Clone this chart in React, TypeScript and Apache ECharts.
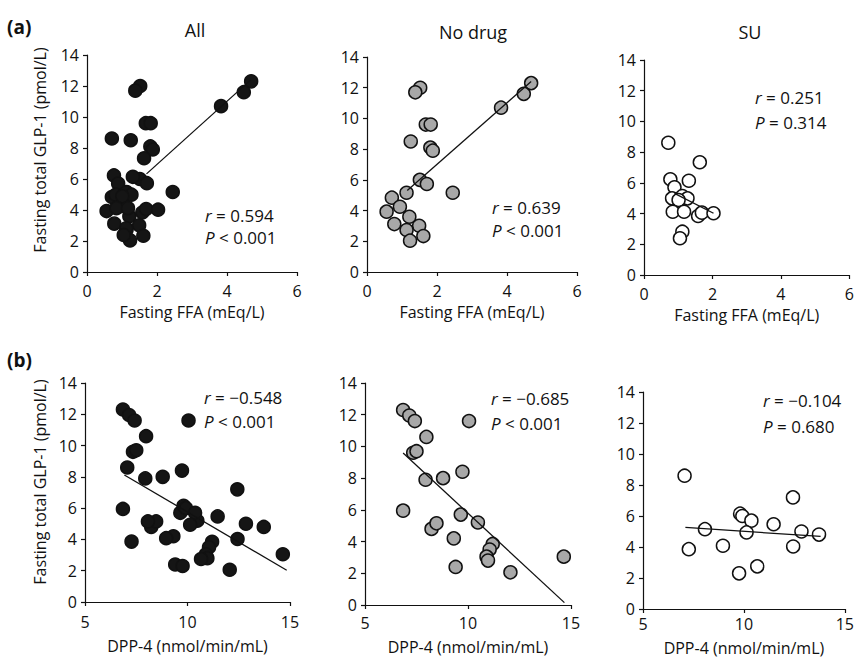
import React, { useEffect, useRef } from "react";
import * as echarts from "echarts";

const panelTitles = ["All", "No drug", "SU"];
const rowLabels = ["(a)", "(b)"];
const yAxisTitle = "Fasting total GLP-1 (pmol/L)";
const xAxisTitles = ["Fasting FFA (mEq/L)", "DPP-4 (nmol/min/mL)"];

// (a) x = fasting FFA (mEq/L), y = fasting total GLP-1 (pmol/L)
const ffaNoDrug: number[][] = [
  [1.52, 12.0], [1.38, 11.7], [4.69, 12.3], [4.48, 11.6], [3.83, 10.7],
  [1.68, 9.6], [1.82, 9.6], [1.25, 8.5], [1.81, 8.1], [1.88, 7.9],
  [1.51, 6.0], [1.71, 5.73], [1.13, 5.16], [2.45, 5.16], [0.71, 4.84],
  [0.94, 4.25], [0.56, 3.93], [1.21, 3.6], [0.78, 3.12], [1.49, 3.01],
  [1.13, 2.73], [1.23, 2.04], [1.61, 2.34],
];
const ffaSU: number[][] = [
  [0.71, 8.61], [1.63, 7.34], [0.77, 6.23], [1.31, 6.14], [0.89, 5.71],
  [0.82, 4.99], [1.12, 5.14], [1.27, 4.99], [1.01, 4.88], [0.84, 4.12],
  [1.17, 4.12], [1.58, 3.84], [1.69, 4.06], [2.03, 4.02], [1.12, 2.82],
  [1.05, 2.39],
];
const ffaAll: number[][] = [...ffaNoDrug, ...ffaSU];

// (b) x = DPP-4 (nmol/min/mL), y = fasting total GLP-1 (pmol/L)
const dppNoDrug: number[][] = [
  [6.85, 12.3], [7.15, 11.95], [7.42, 11.6], [7.98, 10.6], [10.05, 11.6],
  [7.34, 9.6], [7.5, 9.7], [9.73, 8.4], [7.94, 7.9], [8.79, 8.0],
  [6.85, 5.95], [9.65, 5.7], [10.48, 5.2], [8.23, 4.8], [8.47, 5.15],
  [9.31, 4.2], [11.2, 3.85], [11.05, 3.5], [10.9, 3.05], [10.97, 2.8],
  [9.4, 2.4], [12.06, 2.06], [14.65, 3.05],
];
const dppSU: number[][] = [
  [7.06, 8.6], [7.27, 3.86], [8.07, 5.15], [8.96, 4.08], [9.76, 2.3],
  [9.81, 6.15], [9.92, 6.0], [10.37, 5.7], [10.13, 4.94], [10.66, 2.75],
  [11.47, 5.47], [12.43, 7.2], [12.44, 4.03], [12.85, 5.0], [13.72, 4.8],
];
const dppAll: number[][] = [...dppNoDrug, ...dppSU];

// regression lines (end points as drawn)
const fitFfaAll: number[][] = [[1.7, 6.33], [4.67, 12.38]];
const fitFfaNoDrug: number[][] = [[1.15, 5.3], [4.69, 12.4]];
const fitFfaSU: number[][] = [[0.89, 5.32], [2.03, 4.02]];
const fitDppAll: number[][] = [[6.92, 8.12], [14.84, 2.03]];
const fitDppNoDrug: number[][] = [[6.85, 9.58], [14.68, 0.15]];
const fitDppSU: number[][] = [[7.1, 5.26], [13.8, 4.68]];

const statR = ["0.594", "0.639", "0.251", "\u22120.548", "\u22120.685", "\u22120.104"];
const statP = ["< 0.001", "< 0.001", "= 0.314", "< 0.001", "< 0.001", "= 0.680"];

const FONT = "'Open Sans', 'Noto Sans', sans-serif";

export default function App() {
  const ref = useRef<HTMLDivElement>(null);
  useEffect(() => {
    if (!ref.current) return;
    const chart = echarts.init(ref.current, undefined, { renderer: "svg" });

    const grids = [
      { left: 87, top: 55, width: 210, height: 217 },
      { left: 367, top: 57, width: 210, height: 215 },
      { left: 644, top: 60, width: 209, height: 215 },
      { left: 85, top: 383, width: 205, height: 219 },
      { left: 365, top: 383, width: 206, height: 222 },
      { left: 643, top: 392, width: 205, height: 217 },
    ];
    const labelMargins = [11, 11, 11, 12, 10, 7];
    const nameGaps = [32, 32, 32, 36, 34, 31];
    const scatterData = [ffaAll, ffaNoDrug, ffaSU, dppAll, dppNoDrug, dppSU];
    const fitData = [fitFfaAll, fitFfaNoDrug, fitFfaSU, fitDppAll, fitDppNoDrug, fitDppSU];
    const fills = ["#151515", "#a8a8a8", "#ffffff"];

    const axisLine = { show: true, lineStyle: { color: "#111", width: 1.2 } };
    const axisTick = { show: true, length: 4, lineStyle: { color: "#111", width: 1.2 } };

    const xAxes = grids.map((_, i) => {
      const row = i < 3 ? 0 : 1;
      return {
        gridIndex: i,
        type: "value",
        min: row === 0 ? 0 : 5,
        max: row === 0 ? 6 : 15,
        interval: row === 0 ? 2 : 5,
        splitLine: { show: false },
        axisLine: { ...axisLine, onZero: false },
        axisTick,
        axisLabel: { color: "#111", fontSize: 16, fontFamily: FONT, margin: labelMargins[i] },
        name: xAxisTitles[row],
        nameLocation: "middle",
        nameGap: nameGaps[i],
        nameTextStyle: { color: "#111", fontSize: 16, fontFamily: FONT },
      };
    });
    const yAxes = grids.map((_, i) => ({
      gridIndex: i,
      type: "value",
      min: 0,
      max: 14,
      interval: 2,
      splitLine: { show: false },
      axisLine: { ...axisLine, onZero: false },
      axisTick,
      axisLabel: { color: "#111", fontSize: 16, fontFamily: FONT, margin: 8 },
    }));

    const series: any[] = [];
    scatterData.forEach((d, i) => {
      series.push({
        type: "scatter",
        xAxisIndex: i,
        yAxisIndex: i,
        data: d,
        symbol: "circle",
        symbolSize: 13,
        itemStyle: { color: fills[i % 3], borderColor: "#111", borderWidth: 1.5, opacity: 1 },
        z: 2,
      });
      series.push({
        type: "line",
        xAxisIndex: i,
        yAxisIndex: i,
        data: fitData[i],
        symbol: "none",
        lineStyle: { color: "#111", width: 1.3 },
        z: 3,
      });
    });

    const statPos = [
      { x: 205, y: 215, gap: 22 },
      { x: 492, y: 207, gap: 23 },
      { x: 755, y: 97, gap: 25 },
      { x: 204, y: 397, gap: 24 },
      { x: 491, y: 398, gap: 25 },
      { x: 763, y: 400, gap: 26 },
    ];
    const rich = {
      i: { fontStyle: "italic", fontSize: 17, fontFamily: FONT, fill: "#111", color: "#111" },
      n: { fontSize: 17, fontFamily: FONT, fill: "#111", color: "#111" },
    };
    const graphics: any[] = [];
    statPos.forEach((p, i) => {
      graphics.push({
        type: "text",
        x: p.x,
        y: p.y,
        style: {
          text: `{i|r}{n| = ${statR[i]}}`,
          rich,
          align: "left",
          verticalAlign: "middle",
          textAlign: "left",
          textVerticalAlign: "middle",
        },
      });
      graphics.push({
        type: "text",
        x: p.x,
        y: p.y + p.gap,
        style: {
          text: `{i|P}{n| ${statP[i]}}`,
          rich,
          align: "left",
          verticalAlign: "middle",
          textAlign: "left",
          textVerticalAlign: "middle",
        },
      });
    });
    const titleX = [195, 473, 750];
    const titleY = [30, 32, 32];
    panelTitles.forEach((t, i) => {
      graphics.push({
        type: "text",
        x: titleX[i],
        y: titleY[i],
        style: {
          text: t,
          font: `18px ${FONT}`,
          fill: "#111",
          align: "center",
          verticalAlign: "middle",
          textAlign: "center",
          textVerticalAlign: "middle",
        },
      });
    });
    const rowY = [27, 360];
    rowLabels.forEach((t, i) => {
      graphics.push({
        type: "text",
        x: 7,
        y: rowY[i],
        style: {
          text: t,
          font: `bold 19px ${FONT}`,
          fill: "#111",
          align: "left",
          verticalAlign: "middle",
          textAlign: "left",
          textVerticalAlign: "middle",
        },
      });
    });
    const yNameY = [150, 482];
    yNameY.forEach((yy) => {
      graphics.push({
        type: "text",
        x: 40,
        y: yy,
        rotation: Math.PI / 2,
        style: {
          text: yAxisTitle,
          font: `16px ${FONT}`,
          fill: "#111",
          align: "center",
          verticalAlign: "middle",
          textAlign: "center",
          textVerticalAlign: "middle",
        },
      });
    });

    chart.setOption({
      animation: false,
      backgroundColor: "#ffffff",
      grid: grids.map((g) => ({ ...g, containLabel: false })),
      xAxis: xAxes,
      yAxis: yAxes,
      series,
      graphic: graphics,
    });
    return () => chart.dispose();
  }, []);
  return (
    <div
      ref={ref}
      style={{ position: "fixed", left: 0, top: 0, width: 857, height: 662, background: "#fff" }}
    />
  );
}
